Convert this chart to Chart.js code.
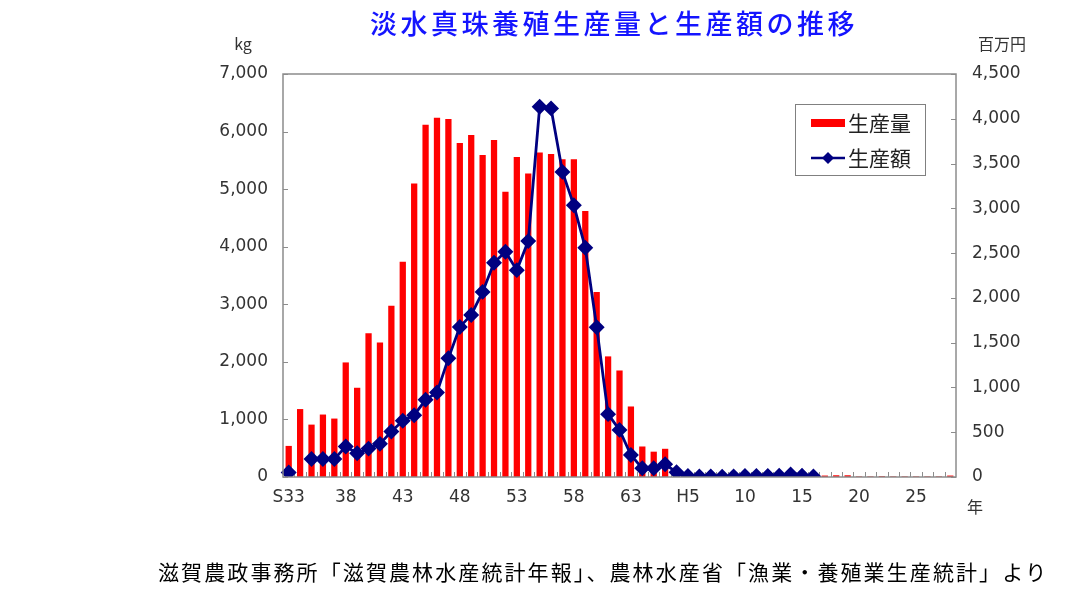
<!DOCTYPE html>
<html lang="ja">
<head>
<meta charset="utf-8">
<title>淡水真珠養殖生産量と生産額の推移</title>
<script src="https://cdn.jsdelivr.net/npm/chart.js@4.4.1/dist/chart.umd.min.js"></script>
<style>
  html, body { margin: 0; padding: 0; background: #fff; }
  #wrap { position: relative; width: 1091px; height: 596px; }
</style>
</head>
<body>
<div id="wrap"><canvas id="pearlChart" width="1091" height="596"></canvas></div>
<script>
// 年次（S33〜H28）
const years = [
  'S33','S34','S35','S36','S37','S38','S39','S40','S41','S42',
  'S43','S44','S45','S46','S47','S48','S49','S50','S51','S52',
  'S53','S54','S55','S56','S57','S58','S59','S60','S61','S62','S63',
  'H1','H2','H3','H4','H5','H6','H7','H8','H9','H10',
  'H11','H12','H13','H14','H15','H16','H17','H18','H19','H20',
  'H21','H22','H23','H24','H25','H26','H27','H28'
];

// x軸に表示するラベル（5年ごと）
const xTickLabels = ['S33','38','43','48','53','58','63','H5','10','15','20','25'];

// 生産量 (kg)
const productionKg = [
  540, 1180, 910, 1085, 1015, 1990, 1550, 2495, 2335, 2975,
  3740, 5100, 6120, 6240, 6220, 5800, 5940, 5595, 5855, 4955,
  5560, 5270, 5635, 5610, 5520, 5520, 4620, 3215, 2095, 1850, 1225,
  530, 440, 490, 80, 40, 30, 20, 20, 15, 15,
  15, 10, 10, 10, 10, 10, 25, 30, 30, 10,
  10, 15, 10, 10, 10, 10, 10, 25
];

// 生産額 (百万円)
const productionValue = [
  50, null, 200, 200, 200, 340, 265, 317, 370, 507,
  627, 690, 862, 944, 1325, 1676, 1810, 2067, 2392, 2515,
  2310, 2634, 4134, 4116, 3407, 3034, 2560, 1672, 702, 526, 246,
  97, 97, 142, 53, 12, 5, 6, 4, 7, 12,
  12, 12, 15, 28, 15, 5, null, null, null, null,
  null, null, null, null, null, null, null, null
];

const leftTicks = [0, 1000, 2000, 3000, 4000, 5000, 6000, 7000];
const rightTicks = [0, 500, 1000, 1500, 2000, 2500, 3000, 3500, 4000, 4500];

const RED = '#ff0000';
const NAVY = '#000080';
const FRAME = '#8c8c8c';
const TICK_FONT = { family: 'DejaVu Sans', size: 17 };
const JP_FONT = '"Noto Sans CJK JP", sans-serif';

// 枠・内向き目盛り・凡例・文字
const decorPlugin = {
  id: 'decor',
  beforeDatasetsDraw(chart) {
    const { ctx, chartArea: a, scales } = chart;
    ctx.save();
    ctx.strokeStyle = FRAME;
    ctx.lineWidth = 1;
    ctx.beginPath();
    leftTicks.forEach(v => {
      const y = Math.round(scales.y.getPixelForValue(v)) + 0.5;
      ctx.moveTo(a.left, y); ctx.lineTo(a.left + 5, y);
    });
    rightTicks.forEach(v => {
      const y = Math.round(scales.y1.getPixelForValue(v)) + 0.5;
      ctx.moveTo(a.right - 5, y); ctx.lineTo(a.right, y);
    });
    const step = (a.right - a.left) / years.length;
    for (let i = 1; i < years.length; i++) {
      const x = Math.round(scales.x.getPixelForValue(i) - step / 2) + 0.5;
      ctx.moveTo(x, a.bottom); ctx.lineTo(x, a.bottom - 5);
    }
    ctx.stroke();
    ctx.restore();
  },
  afterDraw(chart) {
    const { ctx, chartArea: a } = chart;
    ctx.save();
    ctx.strokeStyle = FRAME;
    ctx.lineWidth = 1.5;
    ctx.strokeRect(a.left, a.top, a.right - a.left, a.bottom - a.top);

    // タイトル
    ctx.fillStyle = '#1414ff';
    ctx.font = '500 27px ' + JP_FONT;
    ctx.textAlign = 'center';
    ctx.textBaseline = 'middle';
    ctx.letterSpacing = '3.5px';
    ctx.fillText('淡水真珠養殖生産量と生産額の推移', 614, 24);

    // 単位
    ctx.letterSpacing = '0px';
    ctx.fillStyle = '#333';
    ctx.font = '16px ' + JP_FONT;
    ctx.fillText('kg', 243, 44);
    ctx.fillText('百万円', 1002, 44);
    ctx.fillText('年', 975, 507);

    // 出典
    ctx.fillStyle = '#000';
    ctx.font = '21px ' + JP_FONT;
    ctx.textAlign = 'left';
    ctx.letterSpacing = '2.1px';
    ctx.fillText('滋賀農政事務所「滋賀農林水産統計年報」、農林水産省「漁業・養殖業生産統計」より', 158, 572);

    // 凡例
    ctx.letterSpacing = '0px';
    const bx = 795, by = 104, bw = 130, bh = 71;
    ctx.fillStyle = '#fff';
    ctx.fillRect(bx, by, bw, bh);
    ctx.strokeStyle = '#808080';
    ctx.lineWidth = 1;
    ctx.strokeRect(bx + 0.5, by + 0.5, bw, bh);
    const ds = chart.data.datasets;
    ctx.fillStyle = RED;
    ctx.fillRect(811, 119, 34, 8);
    ctx.strokeStyle = NAVY;
    ctx.lineWidth = 2.5;
    ctx.beginPath();
    ctx.moveTo(811, 158); ctx.lineTo(845, 158);
    ctx.stroke();
    ctx.fillStyle = NAVY;
    ctx.beginPath();
    ctx.moveTo(828, 152); ctx.lineTo(834, 158); ctx.lineTo(828, 164); ctx.lineTo(822, 158);
    ctx.closePath();
    ctx.fill();
    ctx.fillStyle = '#222';
    ctx.font = '21px ' + JP_FONT;
    ctx.textBaseline = 'middle';
    ctx.fillText(ds[0].label, 848, 123);
    ctx.fillText(ds[1].label, 848, 158);
    ctx.restore();
  }
};

new Chart(document.getElementById('pearlChart'), {
  data: {
    labels: years,
    datasets: [
      {
        type: 'bar',
        label: '生産量',
        data: productionKg,
        backgroundColor: RED,
        yAxisID: 'y',
        categoryPercentage: 1,
        barPercentage: 0.55,
        order: 2
      },
      {
        type: 'line',
        label: '生産額',
        data: productionValue,
        borderColor: NAVY,
        backgroundColor: NAVY,
        borderWidth: 2.8,
        pointStyle: 'rectRot',
        pointRadius: 6,
        pointBackgroundColor: NAVY,
        pointBorderColor: NAVY,
        spanGaps: false,
        tension: 0,
        yAxisID: 'y1',
        order: 1
      }
    ]
  },
  options: {
    responsive: false,
    animation: false,
    devicePixelRatio: 1,
    layout: { padding: { top: 74, bottom: 89, left: 0, right: 0 } },
    plugins: {
      legend: { display: false },
      title: { display: false },
      tooltip: { enabled: false }
    },
    scales: {
      x: {
        offset: true,
        grid: { display: false, drawTicks: false },
        border: { display: false },
        ticks: {
          autoSkip: false,
          maxRotation: 0,
          padding: 10,
          color: '#333',
          font: TICK_FONT,
          callback: (val, i) => (i % 5 === 0 ? xTickLabels[i / 5] : '')
        },
        afterFit: s => { s.height = 30; }
      },
      y: {
        position: 'left',
        min: 0,
        max: 7000,
        grid: { display: false, drawTicks: false },
        border: { display: false },
        ticks: {
          stepSize: 1000,
          padding: 15,
          color: '#333',
          font: TICK_FONT,
          callback: v => v.toLocaleString('en-US')
        },
        afterFit: s => { s.width = 283; }
      },
      y1: {
        position: 'right',
        min: 0,
        max: 4500,
        grid: { display: false, drawTicks: false },
        border: { display: false },
        ticks: {
          stepSize: 500,
          padding: 16,
          color: '#333',
          font: TICK_FONT,
          callback: v => v.toLocaleString('en-US')
        },
        afterFit: s => { s.width = 135; }
      }
    }
  },
  plugins: [decorPlugin]
});
</script>
</body>
</html>
